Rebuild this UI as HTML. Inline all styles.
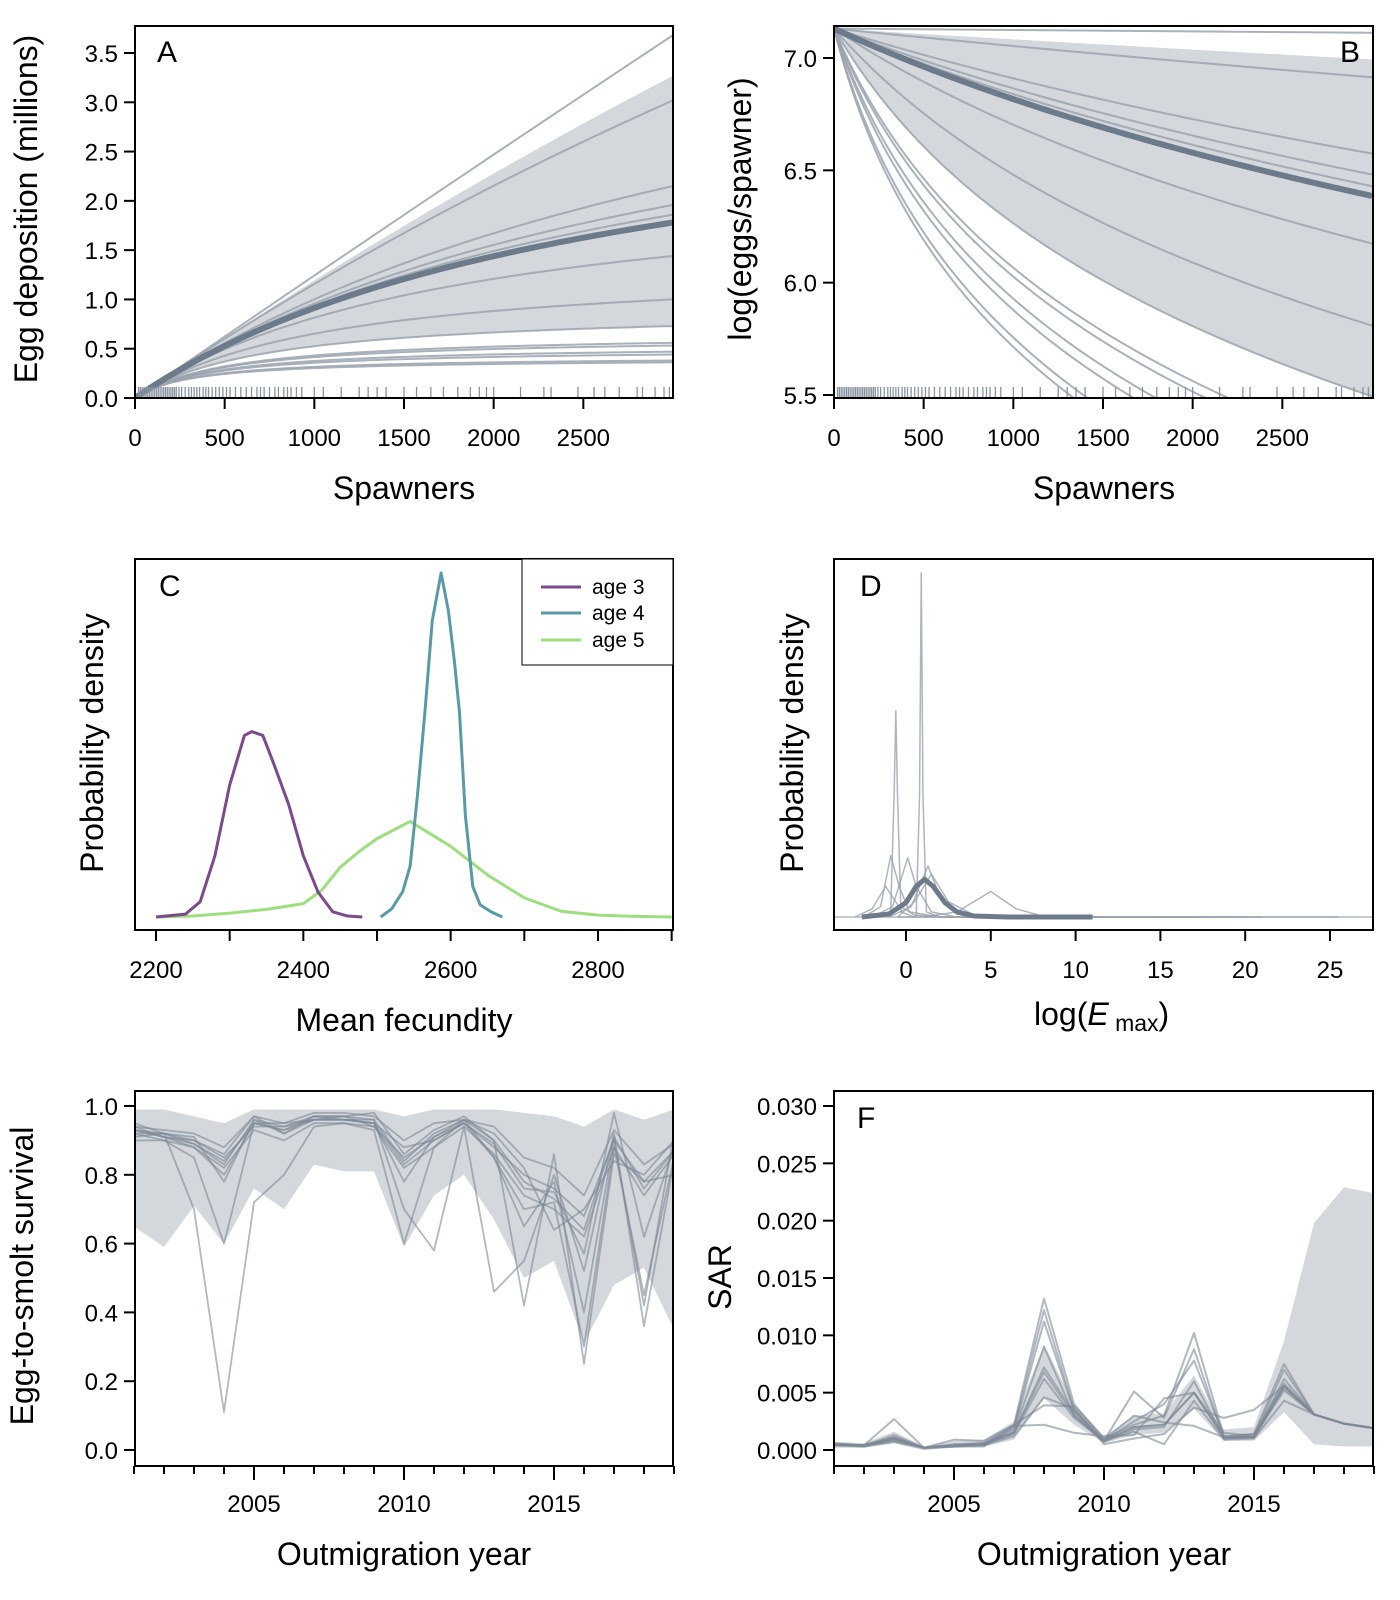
<!DOCTYPE html>
<html><head><meta charset="utf-8"><style>
html,body{margin:0;padding:0;background:#fff}
svg{display:block;font-family:"Liberation Sans",Arial,sans-serif}
</style></head><body>
<svg id="fig" width="1400" height="1600" viewBox="0 0 1400 1600" xmlns="http://www.w3.org/2000/svg">
<defs>
<clipPath id="cA"><rect x="135" y="26" width="538" height="372"/></clipPath>
<clipPath id="cB"><rect x="834" y="26" width="539" height="372"/></clipPath>
<clipPath id="cC"><rect x="135" y="559" width="538" height="371"/></clipPath>
<clipPath id="cD"><rect x="834" y="559" width="539" height="371"/></clipPath>
<clipPath id="cE"><rect x="135" y="1091" width="538" height="375"/></clipPath>
<clipPath id="cF"><rect x="834" y="1091" width="539" height="375"/></clipPath>
</defs>
<g id="gA"></g>
<g id="gB"></g>
<g id="gC"></g>
<g id="gD"></g>
<g id="gE"></g>
<g id="gF"></g>
<g font-size="32" fill="#000">
<text transform="translate(37,209) rotate(-90)" text-anchor="middle">Egg deposition (millions)</text>
<text x="404" y="499" text-anchor="middle">Spawners</text>
<text transform="translate(751,209) rotate(-90)" text-anchor="middle">log(eggs/spawner)</text>
<text x="1104" y="499" text-anchor="middle">Spawners</text>
<text transform="translate(103,743) rotate(-90)" text-anchor="middle">Probability density</text>
<text x="404" y="1031" text-anchor="middle">Mean fecundity</text>
<text transform="translate(803,743) rotate(-90)" text-anchor="middle">Probability density</text>
<text x="1034" y="1025">log(<tspan font-style="italic">E</tspan><tspan font-size="23" dy="6"> max</tspan><tspan dy="-6">)</tspan></text>
<text transform="translate(33,1276) rotate(-90)" text-anchor="middle">Egg-to-smolt survival</text>
<text x="404" y="1565" text-anchor="middle">Outmigration year</text>
<text transform="translate(731,1277) rotate(-90)" text-anchor="middle">SAR</text>
<text x="1104" y="1565" text-anchor="middle">Outmigration year</text>
</g>
<g font-size="30" fill="#000">
<text x="157" y="62">A</text>
<text x="1340" y="62">B</text>
<text x="159" y="596">C</text>
<text x="860" y="596">D</text>
<text x="857" y="1128">F</text>
</g>
<g>
<rect x="522" y="559" width="151" height="106" fill="#fff" stroke="#000" stroke-width="1"/>
<line x1="541" y1="587" x2="581" y2="587" stroke="#7b4a8a" stroke-width="3"/>
<text x="592" y="594" font-size="21">age 3</text>
<line x1="541" y1="613" x2="581" y2="613" stroke="#5a9aa8" stroke-width="3"/>
<text x="592" y="620" font-size="21">age 4</text>
<line x1="541" y1="640" x2="581" y2="640" stroke="#9ddf7f" stroke-width="3"/>
<text x="592" y="647" font-size="21">age 5</text>
</g>
</svg>
<script>
// ---------- data: panels A & B (Beverton-Holt fits) ----------
const alphaEggs = 1250; // eggs per spawner at low abundance
const curveEmax = [200, 15.5, 5.04, 4.1, 3.69, 2.34, 1.364, 0.906, 0.658, 0.62, 0.537, 0.50, 0.423, 0.40];
const medianEmax = 3.39;
const bandEmaxLower = 0.906;
const bandEmaxUpper = 25.5;
const rugSpawners = [20,30,40,50,60,70,80,90,100,110,120,130,140,150,160,170,180,190,200,210,220,230,245,260,280,300,315,330,345,360,380,395,410,430,450,470,490,510,530,560,590,620,650,680,700,720,750,780,800,830,850,870,900,930,1000,1050,1150,1250,1300,1350,1400,1500,1570,1650,1720,1800,1870,1920,1960,2000,2150,2280,2320,2470,2560,2620,2700,2800,2830,2900,2950,2980];
const ticksA_y = [0,0.5,1,1.5,2,2.5,3,3.5];
const ticksA_yLab = ["0.0","0.5","1.0","1.5","2.0","2.5","3.0","3.5"];
const ticksSpawn = [0,500,1000,1500,2000,2500];
const ticksB_y = [5.5,6,6.5,7];
const ticksB_yLab = ["5.5","6.0","6.5","7.0"];
// ---------- data: panel C ----------
const age3X = [2200,2240,2260,2280,2300,2320,2330,2345,2360,2380,2400,2420,2440,2460,2480];
const age3D = [0,0.15,0.8,3.2,6.9,9.5,9.7,9.5,8.0,5.9,3.2,1.3,0.27,0.05,0];
const age4X = [2505,2520,2535,2545,2555,2565,2575,2587,2597,2605,2612,2620,2630,2640,2655,2670];
const age4D = [0,0.43,1.34,2.67,6.41,10.7,15.5,18.0,16.0,13.4,10.7,5.3,1.6,0.64,0.27,0];
const age5X = [2200,2250,2300,2350,2400,2425,2450,2475,2500,2545,2600,2650,2700,2750,2800,2850,2900];
const age5D = [0,0.05,0.2,0.4,0.7,1.4,2.6,3.4,4.1,5.0,3.7,2.2,1.0,0.3,0.1,0.03,0];
const ticksC = [2200,2300,2400,2500,2600,2700,2800,2900];
const ticksC_lab = ["2200","","2400","","2600","","2800",""];
// ---------- data: panel D ----------
const dThinX = [
 [-0.5,0.6,0.8,0.9,1.0,1.2,2,20],
 [-1.5,-0.9,-0.7,-0.6,-0.5,-0.3,0.5,15],
 [-2.5,-1.5,-0.9,-0.4,0.2,2,18],
 [-2,-0.8,0.1,0.6,1.5,3,21],
 [-1,0.3,1.3,2,3,5,12],
 [1,3,5,6.5,8,10,17],
 [-3,-2,-1.2,-0.5,0.5,2,8],
 [-0.5,0.5,1.5,2.5,4,6,25.5]];
const dThinY = [
 [0,0,120,337,120,5,0,0],
 [0,5,120,202,120,5,0,0],
 [0,10,60,30,5,0,0],
 [0,10,58,30,5,0,0],
 [0,10,50,20,3,0,0],
 [0,5,25,8,1,0,0],
 [0,8,30,12,2,0,0],
 [0,15,42,15,2,0,0]];
const dMedX = [-2.6,-1,0,0.6,1.1,1.6,2.3,3,4,6,11];
const dMedY = [0,3,14,30,37,30,14,5,1,0,0];
const ticksD = [0,5,10,15,20,25];
// ---------- data: panel E ----------
const years = [2001,2002,2003,2004,2005,2006,2007,2008,2009,2010,2011,2012,2013,2014,2015,2016,2017,2018,2019];
const eBandLo = [0.65,0.59,0.71,0.60,0.76,0.70,0.83,0.81,0.81,0.59,0.74,0.80,0.67,0.50,0.55,0.31,0.48,0.53,0.35];
const eBandHi = [0.99,0.99,0.97,0.95,0.99,0.99,0.99,0.99,0.99,0.97,0.99,0.99,0.99,0.98,0.97,0.94,0.99,0.96,0.99];
const eLines = [
 [0.93,0.92,0.70,0.11,0.72,0.80,0.94,0.95,0.93,0.60,0.88,0.96,0.85,0.70,0.72,0.30,0.88,0.45,0.85],
 [0.95,0.92,0.91,0.78,0.96,0.92,0.97,0.97,0.96,0.70,0.58,0.94,0.46,0.55,0.80,0.52,0.92,0.36,0.84],
 [0.92,0.90,0.85,0.60,0.95,0.95,0.96,0.97,0.98,0.86,0.93,0.97,0.90,0.42,0.86,0.25,0.86,0.78,0.80],
 [0.94,0.93,0.92,0.88,0.97,0.95,0.98,0.98,0.97,0.90,0.95,0.96,0.94,0.85,0.82,0.74,0.93,0.83,0.89],
 [0.90,0.90,0.88,0.82,0.93,0.90,0.95,0.95,0.94,0.82,0.88,0.94,0.86,0.74,0.70,0.62,0.88,0.74,0.86],
 [0.93,0.91,0.90,0.85,0.94,0.94,0.96,0.96,0.95,0.78,0.91,0.95,0.89,0.76,0.75,0.57,0.98,0.62,0.88],
 [0.92,0.92,0.90,0.86,0.97,0.92,0.96,0.96,0.96,0.84,0.92,0.96,0.92,0.82,0.64,0.70,0.84,0.80,0.90],
 [0.94,0.91,0.88,0.80,0.95,0.93,0.97,0.96,0.95,0.88,0.90,0.95,0.85,0.65,0.78,0.40,0.90,0.42,0.92],
 [0.93,0.91,0.89,0.84,0.95,0.93,0.96,0.96,0.95,0.83,0.90,0.95,0.88,0.80,0.76,0.68,0.90,0.78,0.87],
 [0.91,0.92,0.89,0.83,0.96,0.94,0.97,0.97,0.94,0.85,0.91,0.96,0.90,0.78,0.73,0.64,0.91,0.76,0.87]];
const ticksE_y = [0,0.2,0.4,0.6,0.8,1.0];
const ticksE_yLab = ["0.0","0.2","0.4","0.6","0.8","1.0"];
const yearLabels = [2005,2010,2015];
// ---------- data: panel F ----------
const fBandLo = [0.0002,0.0002,0.0006,0.0001,0.0002,0.0003,0.0009,0.0045,0.0022,0.0006,0.0013,0.0015,0.0036,0.0008,0.0008,0.0033,0.0005,0.0003,0.0003];
const fBandHi = [0.0007,0.0006,0.0016,0.0003,0.0008,0.0009,0.0025,0.0092,0.0040,0.0012,0.0030,0.0032,0.0065,0.0018,0.0020,0.0095,0.0198,0.0229,0.0224];
const fLines = [
 [0.0006,0.0004,0.0027,0.0002,0.0005,0.0006,0.0022,0.0132,0.0040,0.0010,0.0022,0.0030,0.0102,0.0012,0.0014,0.0075,0.0031,0.0023,0.0019],
 [0.0005,0.0004,0.0013,0.0002,0.0004,0.0005,0.0020,0.0122,0.0035,0.0008,0.0051,0.0028,0.0088,0.0010,0.0012,0.0070,0.0031,0.0023,0.0019],
 [0.0005,0.0003,0.0010,0.0002,0.0003,0.0005,0.0018,0.0112,0.0034,0.0008,0.0025,0.0040,0.0078,0.0012,0.0011,0.0062,0.0031,0.0023,0.0019],
 [0.0004,0.0004,0.0009,0.0002,0.0004,0.0006,0.0016,0.0090,0.0030,0.0007,0.0018,0.0020,0.0060,0.0010,0.0011,0.0056,0.0031,0.0023,0.0019],
 [0.0005,0.0004,0.0011,0.0002,0.0004,0.0005,0.0015,0.0072,0.0032,0.0008,0.0020,0.0022,0.0050,0.0011,0.0011,0.0052,0.0031,0.0023,0.0019],
 [0.0005,0.0004,0.0008,0.0002,0.0004,0.0005,0.0014,0.0062,0.0028,0.0008,0.0016,0.0005,0.0043,0.0009,0.0010,0.0043,0.0031,0.0023,0.0019],
 [0.0004,0.0003,0.0007,0.0001,0.0003,0.0004,0.0012,0.0046,0.0036,0.0005,0.0010,0.0014,0.0037,0.0028,0.0035,0.0056,0.0031,0.0023,0.0019],
 [0.0005,0.0004,0.0009,0.0002,0.0009,0.0008,0.0022,0.0039,0.0038,0.0009,0.0030,0.0024,0.0021,0.0011,0.0014,0.0058,0.0031,0.0023,0.0019],
 [0.0005,0.0004,0.0010,0.0002,0.0003,0.0003,0.0021,0.0022,0.0015,0.0012,0.0013,0.0045,0.0050,0.0015,0.0012,0.0054,0.0031,0.0023,0.0019],
 [0.0005,0.0004,0.0011,0.0002,0.0004,0.0005,0.0015,0.0068,0.0030,0.0008,0.0020,0.0022,0.0050,0.0011,0.0011,0.0056,0.0031,0.0023,0.0019]];
const ticksF_y = [0,0.005,0.01,0.015,0.02,0.025,0.03];
const ticksF_yLab = ["0.000","0.005","0.010","0.015","0.020","0.025","0.030"];

// ---------- helpers ----------
const NS = "http://www.w3.org/2000/svg";
function el(parent, tagName, attrs){
  const e = document.createElementNS(NS, tagName);
  for (const k in attrs) e.setAttribute(k, attrs[k]);
  parent.appendChild(e);
  return e;
}
function nm(e, name){
  
  
  return e;
}
function lin(d0,d1,r0,r1){ return v => r0 + (v-d0)/(d1-d0)*(r1-r0); }
function pathFrom(xs, ys, sx, sy){
  return xs.map((x,i)=>(i?'L':'M')+sx(x).toFixed(2)+','+sy(ys[i]).toFixed(2)).join(' ');
}
function box(g, x0,y0,x1,y1, name){
  nm(el(g,'rect',{x:x0,y:y0,width:x1-x0,height:y1-y0,fill:'none',stroke:'#000','stroke-width':2}), name);
}
function yAxis(g, ticks, labs, sy, xLeft, name){
  ticks.forEach((t,i)=>{
    const y = sy(t);
    const tk = el(g,'line',{x1:xLeft-11,x2:xLeft,y1:y,y2:y,stroke:'#000','stroke-width':2});
    nm(tk, name+'-tick');
    const tx = el(g,'text',{x:xLeft-17,y:y+9,'text-anchor':'end','font-size':24});
    nm(tx, name+'-label');
    tx.textContent = labs[i];
  });
}
function xAxis(g, ticks, labs, sx, yBot, name, longTicks){
  ticks.forEach((t,i)=>{
    const x = sx(t);
    const major = !longTicks || labs[i] !== '';
    const tk = el(g,'line',{x1:x,x2:x,y1:yBot,y2:yBot+(major?(longTicks?14:11):8),stroke:'#000','stroke-width':2});
    nm(tk, name+'-tick');
    if (labs[i] !== ''){
      const tx = el(g,'text',{x:x,y:yBot+(longTicks?46:48),'text-anchor':'middle','font-size':24});
      nm(tx, name+'-label');
      tx.textContent = labs[i];
    }
  });
}
const BAND = '#d4d7dc', THIN = '#9aa3ae', MED = '#6c7a89';

// ---------- Panel A ----------
(function(){
  const g = document.getElementById('gA');
  const sx = lin(0,3000,135,673), sy = lin(0,3.5,398,53);
  const a = alphaEggs/1e6;
  const S = []; for (let s=0; s<=3000; s+=25) S.push(s);
  const E = em => S.map(s => a*s/(1+a*s/em));
  const c = el(g,'g',{'clip-path':'url(#cA)'});
  nm(c,'panel-a-plot-area');
  const lo = E(bandEmaxLower), hi = E(bandEmaxUpper);
  const bd = pathFrom(S,hi,sx,sy)+' '+S.slice().reverse().map((s,i)=>'L'+sx(s).toFixed(2)+','+sy(lo[lo.length-1-i]).toFixed(2)).join(' ')+'Z';
  nm(el(c,'path',{d:bd,fill:BAND}),'credible-band');
  curveEmax.forEach(em=>{
    nm(el(c,'path',{d:pathFrom(S,E(em),sx,sy),fill:'none',stroke:THIN,'stroke-width':2,opacity:0.85}),'posterior-curve');
  });
  nm(el(c,'path',{d:pathFrom(S,E(medianEmax),sx,sy),fill:'none',stroke:MED,'stroke-width':6}),'median-curve');
  rugSpawners.forEach(s=>{
    nm(el(c,'line',{x1:sx(s),x2:sx(s),y1:398,y2:387,stroke:'#8a93a0','stroke-width':1.3}),'rug-tick');
  });
  box(g,135,26,673,398,'panel-a-frame');
  yAxis(g,ticksA_y,ticksA_yLab,sy,135,'y-axis-a');
  xAxis(g,ticksSpawn,ticksSpawn.map(String),sx,398,'x-axis-a',false);
})();

// ---------- Panel B ----------
(function(){
  const g = document.getElementById('gB');
  const sx = lin(0,3000,834,1372), sy = lin(5.5,7.0,395,58);
  const a = alphaEggs/1e6;
  const S = []; for (let s=0; s<=3000; s+=20) S.push(s);
  const L = em => S.map(s => Math.log(alphaEggs) - Math.log(1+a*s/em));
  const c = el(g,'g',{'clip-path':'url(#cB)'});
  nm(c,'panel-b-plot-area');
  const lo = L(bandEmaxLower), hi = L(bandEmaxUpper);
  const bd = pathFrom(S,hi,sx,sy)+' '+S.slice().reverse().map((s,i)=>'L'+sx(s).toFixed(2)+','+sy(lo[lo.length-1-i]).toFixed(2)).join(' ')+'Z';
  nm(el(c,'path',{d:bd,fill:BAND}),'credible-band');
  curveEmax.forEach(em=>{
    nm(el(c,'path',{d:pathFrom(S,L(em),sx,sy),fill:'none',stroke:THIN,'stroke-width':2,opacity:0.85}),'posterior-curve');
  });
  nm(el(c,'path',{d:pathFrom(S,L(medianEmax),sx,sy),fill:'none',stroke:MED,'stroke-width':6}),'median-curve');
  rugSpawners.forEach(s=>{
    nm(el(c,'line',{x1:sx(s),x2:sx(s),y1:398,y2:387,stroke:'#8a93a0','stroke-width':1.3}),'rug-tick');
  });
  box(g,834,26,1373,398,'panel-b-frame');
  yAxis(g,ticksB_y,ticksB_yLab,sy,834,'y-axis-b');
  xAxis(g,ticksSpawn,ticksSpawn.map(String),sx,398,'x-axis-b',false);
})();

// ---------- Panel C ----------
(function(){
  const g = document.getElementById('gC');
  const sx = lin(2200,2800,156,598), sy = lin(0,18,917,573);
  const c = el(g,'g',{'clip-path':'url(#cC)'});
  nm(c,'panel-c-plot-area');
  nm(el(c,'path',{d:pathFrom(age5X,age5D,sx,sy),fill:'none',stroke:'#9ddf7f','stroke-width':3,'stroke-linejoin':'round'}),'density-age5');
  nm(el(c,'path',{d:pathFrom(age3X,age3D,sx,sy),fill:'none',stroke:'#7b4a8a','stroke-width':3,'stroke-linejoin':'round'}),'density-age3');
  nm(el(c,'path',{d:pathFrom(age4X,age4D,sx,sy),fill:'none',stroke:'#5a9aa8','stroke-width':3,'stroke-linejoin':'round'}),'density-age4');
  box(g,135,559,673,930,'panel-c-frame');
  xAxis(g,ticksC,ticksC_lab,sx,930,'x-axis-c',false);
})();

// ---------- Panel D ----------
(function(){
  const g = document.getElementById('gD');
  const sx = lin(0,25,906,1330), sy = lin(0,337,917,573);
  const c = el(g,'g',{'clip-path':'url(#cD)'});
  nm(c,'panel-d-plot-area');
  nm(el(c,'line',{x1:834,x2:1373,y1:sy(0),y2:sy(0),stroke:'#b4bac2','stroke-width':1.5}),'density-baseline');
  dThinX.forEach((xs,i)=>{
    nm(el(c,'path',{d:pathFrom(xs,dThinY[i],sx,sy),fill:'none',stroke:THIN,'stroke-width':1.5,opacity:0.8,'stroke-linejoin':'round'}),'posterior-density');
  });
  nm(el(c,'path',{d:pathFrom(dMedX,dMedY,sx,sy),fill:'none',stroke:MED,'stroke-width':5,'stroke-linejoin':'round'}),'median-density');
  box(g,834,559,1373,930,'panel-d-frame');
  xAxis(g,ticksD,ticksD.map(String),sx,930,'x-axis-d',false);
})();

// ---------- Panel E ----------
(function(){
  const g = document.getElementById('gE');
  const sx = lin(2005,2015,254,554), sy = lin(0,1,1450,1106);
  const c = el(g,'g',{'clip-path':'url(#cE)'});
  nm(c,'panel-e-plot-area');
  const bd = pathFrom(years,eBandHi,sx,sy)+' '+years.slice().reverse().map((y,i)=>'L'+sx(y).toFixed(2)+','+sy(eBandLo[eBandLo.length-1-i]).toFixed(2)).join(' ')+'Z';
  nm(el(c,'path',{d:bd,fill:BAND}),'credible-band');
  eLines.forEach(v=>{
    nm(el(c,'path',{d:pathFrom(years,v,sx,sy),fill:'none',stroke:'#7d8896','stroke-width':1.8,opacity:0.6,'stroke-linejoin':'round'}),'survival-series');
  });
  box(g,135,1091,673,1466,'panel-e-frame');
  yAxis(g,ticksE_y,ticksE_yLab,sy,135,'y-axis-e');
  xAxis(g,years,years.map(y=>yearLabels.includes(y)?String(y):''),sx,1466,'x-axis-e',true);
})();

// ---------- Panel F ----------
(function(){
  const g = document.getElementById('gF');
  const sx = lin(2005,2015,954,1254), sy = lin(0,0.03,1450,1106);
  const c = el(g,'g',{'clip-path':'url(#cF)'});
  nm(c,'panel-f-plot-area');
  const bd = pathFrom(years,fBandHi,sx,sy)+' '+years.slice().reverse().map((y,i)=>'L'+sx(y).toFixed(2)+','+sy(fBandLo[fBandLo.length-1-i]).toFixed(2)).join(' ')+'Z';
  nm(el(c,'path',{d:bd,fill:BAND}),'credible-band');
  fLines.forEach(v=>{
    nm(el(c,'path',{d:pathFrom(years,v,sx,sy),fill:'none',stroke:'#7d8896','stroke-width':2,opacity:0.6,'stroke-linejoin':'round'}),'sar-series');
  });
  box(g,834,1091,1373,1466,'panel-f-frame');
  yAxis(g,ticksF_y,ticksF_yLab,sy,834,'y-axis-f');
  xAxis(g,years,years.map(y=>yearLabels.includes(y)?String(y):''),sx,1466,'x-axis-f',true);
})();
</script>
</body></html>
